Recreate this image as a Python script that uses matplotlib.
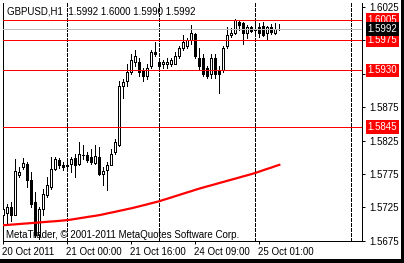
import matplotlib
matplotlib.use("Agg")
import matplotlib.pyplot as plt
from matplotlib.patches import Rectangle
import matplotlib.transforms as mtransforms

# ---------------- data ----------------
title_text = "GBPUSD,H1  1.5992 1.6000 1.5990 1.5992"
copyright_text = "MetaTrader, \u00a9 2001-2011 MetaQuotes Software Corp."

opens = [1.5713, 1.5717, 1.5725, 1.5714, 1.5773, 1.5786, 1.5790, 1.5766, 1.5733, 1.5683,
         1.5722, 1.5743, 1.5755, 1.5783, 1.5796, 1.5789, 1.5789, 1.5790, 1.5799, 1.5790,
         1.5804, 1.5804, 1.5801, 1.5792, 1.5801, 1.5775, 1.5781, 1.5789, 1.5808, 1.5819,
         1.5907, 1.5914, 1.5927, 1.5942, 1.5942, 1.5930, 1.5922, 1.5937, 1.5958, 1.5942,
         1.5940, 1.5940, 1.5940, 1.5940, 1.5952, 1.5963, 1.5966, 1.5975, 1.5984, 1.5949,
         1.5948, 1.5933, 1.5925, 1.5948, 1.5930, 1.5930, 1.5967, 1.5983, 1.5986, 1.6002,
         1.6001, 1.5986, 1.5995, 1.5992, 1.5995, 1.5996, 1.5986, 1.5995, 1.5986, 1.5992]
highs = [1.5728, 1.5730, 1.5733, 1.5798, 1.5786, 1.5799, 1.5793, 1.5778, 1.5748, 1.5725,
         1.5752, 1.5770, 1.5801, 1.5801, 1.5799, 1.5793, 1.5796, 1.5801, 1.5805, 1.5823,
         1.5819, 1.5808, 1.5813, 1.5819, 1.5816, 1.5786, 1.5793, 1.5813, 1.5828, 1.5914,
         1.5917, 1.5940, 1.5955, 1.5960, 1.5948, 1.5934, 1.5940, 1.5960, 1.5973, 1.5948,
         1.5946, 1.5948, 1.5949, 1.5957, 1.5966, 1.5983, 1.5978, 1.5998, 1.5986, 1.5964,
         1.5955, 1.5937, 1.5955, 1.5955, 1.5937, 1.5967, 1.5995, 1.5993, 1.6007, 1.6005,
         1.6002, 1.5998, 1.5996, 1.6002, 1.6001, 1.6002, 1.5996, 1.5999, 1.6001, 1.6000]
lows = [1.5699, 1.5699, 1.5705, 1.5713, 1.5770, 1.5783, 1.5755, 1.5725, 1.5680, 1.5678,
        1.5713, 1.5740, 1.5752, 1.5781, 1.5784, 1.5781, 1.5783, 1.5778, 1.5770, 1.5789,
        1.5798, 1.5793, 1.5790, 1.5790, 1.5773, 1.5758, 1.5751, 1.5788, 1.5805, 1.5817,
        1.5889, 1.5907, 1.5925, 1.5936, 1.5922, 1.5914, 1.5917, 1.5934, 1.5952, 1.5933,
        1.5933, 1.5934, 1.5937, 1.5939, 1.5949, 1.5961, 1.5964, 1.5970, 1.5949, 1.5931,
        1.5922, 1.5919, 1.5919, 1.5919, 1.5896, 1.5927, 1.5964, 1.5980, 1.5984, 1.5990,
        1.5970, 1.5978, 1.5987, 1.5983, 1.5980, 1.5981, 1.5975, 1.5984, 1.5984, 1.5990]
closes = [1.5723, 1.5725, 1.5714, 1.5780, 1.5778, 1.5792, 1.5766, 1.5730, 1.5683, 1.5722,
          1.5745, 1.5758, 1.5783, 1.5798, 1.5789, 1.5786, 1.5787, 1.5798, 1.5789, 1.5805,
          1.5803, 1.5796, 1.5793, 1.5802, 1.5775, 1.5780, 1.5789, 1.5805, 1.5823, 1.5907,
          1.5913, 1.5927, 1.5946, 1.5952, 1.5927, 1.5922, 1.5934, 1.5957, 1.5955, 1.5937,
          1.5942, 1.5942, 1.5945, 1.5952, 1.5963, 1.5972, 1.5975, 1.5986, 1.5952, 1.5937,
          1.5925, 1.5922, 1.5948, 1.5925, 1.5924, 1.5964, 1.5983, 1.5986, 1.6005, 1.5998,
          1.5986, 1.5995, 1.5989, 1.5991, 1.5986, 1.5983, 1.5995, 1.5987, 1.5992, 1.5992]
ma_values = [1.56982, 1.56986, 1.56991, 1.56995, 1.57000, 1.57005, 1.57009, 1.57014, 1.57018, 1.57023,
             1.57029, 1.57033, 1.57038, 1.57042, 1.57047, 1.57053, 1.57058, 1.57067, 1.57076, 1.57086,
             1.57095, 1.57105, 1.57114, 1.57123, 1.57133, 1.57145, 1.57159, 1.57171, 1.57183, 1.57197,
             1.57209, 1.57223, 1.57235, 1.57250, 1.57265, 1.57280, 1.57295, 1.57311, 1.57326, 1.57341,
             1.57361, 1.57379, 1.57398, 1.57417, 1.57436, 1.57455, 1.57474, 1.57492, 1.57512, 1.57530,
             1.57547, 1.57564, 1.57580, 1.57597, 1.57614, 1.57630, 1.57647, 1.57664, 1.57680, 1.57697,
             1.57714, 1.57730, 1.57747, 1.57765, 1.57785, 1.57806, 1.57826, 1.57845, 1.57867, 1.57886]

time_tick_bars = [0, 16, 32, 48, 64]
time_tick_labels = ["20 Oct 2011", "21 Oct 00:00", "21 Oct 16:00", "24 Oct 09:00", "25 Oct 01:00"]
day_separator_bars = [16, 39, 63, 87]
price_ticks = [1.6025, 1.5975, 1.5925, 1.5875, 1.5825, 1.5775, 1.5725, 1.5675]
price_tick_labels = ["1.6025", "", "", "1.5875", "1.5825", "1.5775", "1.5725", "1.5675"]
red_levels = [1.6005, 1.5975, 1.5930, 1.5845]
bid_price = 1.5992

# ---------------- layout ----------------
W, H = 404, 263
FONT = "Liberation Sans"
FS = 7.0
plt.rcParams["font.family"] = [FONT, "DejaVu Sans"]

fig = plt.figure(figsize=(W / 100, H / 100), dpi=100, facecolor="white")
ax = fig.add_axes([3 / W, 22 / H, 359 / W, 238 / H])
ax.set_facecolor("white")
ax.set_xlim(-0.075, 89.675)
ax.set_ylim(1.5674545, 1.6031061)

px = 0.72  # one pixel in points

# day separators
for b in day_separator_bars:
    ax.axvline(b, color="black", lw=px, ls=(0, (3, 2)), zorder=1, antialiased=False)

# candles
bw = 0.5
for i, (o, h, l, c) in enumerate(zip(opens, highs, lows, closes)):
    ax.vlines(i, l, h, color="black", lw=px, zorder=2, antialiased=False)
    lo, hi = min(o, c), max(o, c)
    face = "white" if c >= o else "black"
    if hi - lo < 0.00002:
        ax.hlines(o, i - bw / 2, i + bw / 2, color="black", lw=px, zorder=3, antialiased=False)
    else:
        ax.add_patch(Rectangle((i - bw / 2, lo), bw, hi - lo, facecolor=face,
                               edgecolor="black", lw=px, zorder=3, antialiased=False))

# moving average
ax.plot(range(len(ma_values)), ma_values, color="#ff0000", lw=1.6, zorder=4,
        solid_joinstyle="miter")

# horizontal lines
ax.axhline(bid_price, color="#c0c0c0", lw=px, zorder=5, antialiased=False)
for lv in red_levels:
    ax.axhline(lv, color="#ff0000", lw=px, zorder=6, antialiased=False)

# spines
ax.spines["top"].set_visible(False)
for s in ("left", "right", "bottom"):
    ax.spines[s].set_linewidth(px)
    ax.spines[s].set_color("black")

# axes ticks
ax.yaxis.tick_right()
ax.set_yticks(price_ticks)
ax.set_yticklabels(price_tick_labels)
ax.tick_params(axis="y", direction="out", length=2.2, width=px, pad=3.0,
               labelsize=FS, colors="black")
ax.set_xticks(time_tick_bars)
ax.set_xticklabels(time_tick_labels)
ax.tick_params(axis="x", direction="out", length=2.5, width=px, pad=2.0,
               labelsize=FS, colors="black")
for lab in ax.get_xticklabels():
    lab.set_horizontalalignment("left")
    lab.set_transform(lab.get_transform() + mtransforms.ScaledTranslation(-1 / 100, 0, fig.dpi_scale_trans))

# right-side price boxes
blend = mtransforms.blended_transform_factory(ax.transAxes, ax.transData)
for lv in red_levels:
    ax.annotate(f"{lv:.4f}", xy=(1, lv), xycoords=blend, xytext=(5.5, 0),
                textcoords="offset pixels", ha="left", va="center", color="white",
                fontsize=FS, annotation_clip=False, zorder=10,
                bbox=dict(boxstyle="square,pad=0.2", fc="#ff0000", ec="none"))
ax.annotate(f"{bid_price:.4f}", xy=(1, bid_price), xycoords=blend, xytext=(5.5, 0),
            textcoords="offset pixels", ha="left", va="center", color="white",
            fontsize=FS, annotation_clip=False, zorder=11,
            bbox=dict(boxstyle="square,pad=0.2", fc="black", ec="none"))

# texts
ax.text(4 / 359, 1 - 4 / 238, title_text, transform=ax.transAxes, ha="left", va="top",
        fontsize=FS, color="black", zorder=12)
ax.text(3 / 359, 1 / 238, copyright_text, transform=ax.transAxes, ha="left", va="bottom",
        fontsize=FS, color="black", zorder=12)

# window border (right & bottom)
fig.patches.append(Rectangle((401 / W, 0), 3 / W, 1, transform=fig.transFigure,
                             facecolor="black", edgecolor="none"))
fig.patches.append(Rectangle((0, 0), 1, 4 / H, transform=fig.transFigure,
                             facecolor="black", edgecolor="none"))

fig.savefig("out.png", dpi=100, facecolor="white")
